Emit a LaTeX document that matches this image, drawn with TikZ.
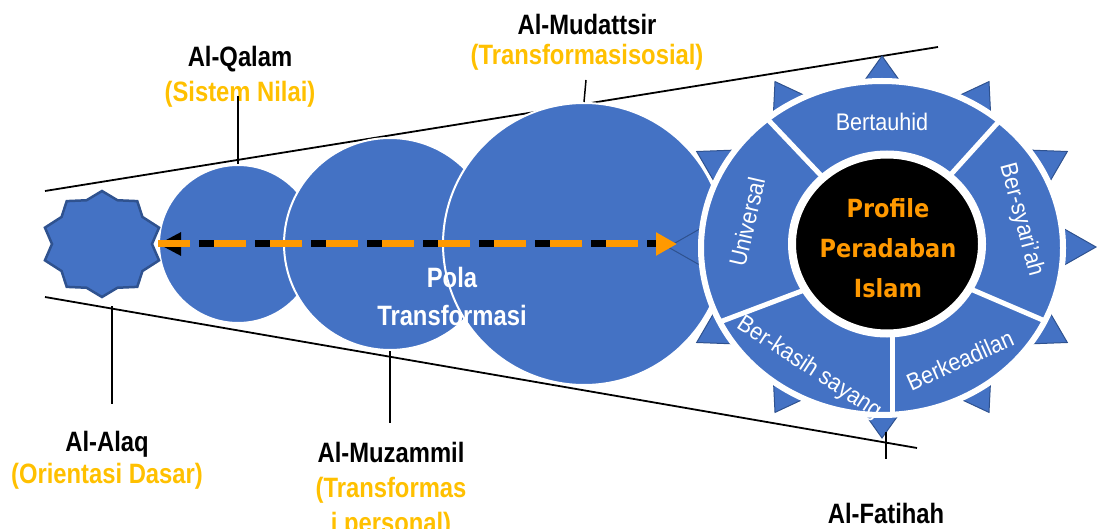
\documentclass[tikz,border=0pt]{standalone}
\usepackage{fontspec}
\setmainfont{Liberation Sans}
\newfontfamily\labelfont[FakeStretch=0.85]{Liberation Sans}
\newfontfamily\segmentfont[FakeStretch=0.9]{Liberation Sans}
\newfontfamily\profilefont[FakeStretch=0.9]{DejaVu Sans}
\usetikzlibrary{positioning, shapes.geometric, arrows.meta}
\definecolor{wheelblue}{HTML}{4472C4}
\definecolor{wheeledge}{HTML}{2F528F}
\definecolor{themegold}{HTML}{FFC000}
\definecolor{pathorange}{HTML}{FF9900}

\begin{document}
\begin{tikzpicture}[x=1pt, y=-1pt,
    surah/.style={font=\labelfont\bfseries\fontsize{28}{30}\selectfont, align=center, inner sep=0pt, anchor=base},
    stage/.style={circle, inner sep=0pt, fill=wheelblue, draw=white, line width=2pt},
    virtue/.style={font=\segmentfont\fontsize{24}{24}\selectfont, text=white, inner sep=0pt},
    leader/.style={line width=1.5pt},
    divider/.style={draw=white, line width=5pt}]
    \useasboundingbox (0,0) rectangle (1097,529);

    % funnel
    \coordinate (topL) at (45,191);
    \coordinate (topR) at (938,47);
    \coordinate (botL) at (45,297);
    \coordinate (botR) at (917,448);
    \draw [line width=1.8pt] (topL) -- (topR);
    \draw [line width=1.8pt] (botL) -- (botR);

    % stages
    \node (qalamC)     [stage, minimum size=158] at (238,244) {};
    \node (muzammilC)  [stage, minimum size=212] at (390,244) {};
    \node (mudattsirC) [stage, minimum size=282] at (584,244) {};

    % al-alaq
    \draw [fill=wheelblue, draw=wheeledge, line width=2.5pt] (102,191)
        \foreach \k in {1,...,19}
        { -- ({102+(55+5*cos(180*\k))*cos(90+18*\k)}, {244-(49.5+3.5*cos(180*\k))*sin(90+18*\k)}) } -- cycle;

    % wheel
    \draw [fill=wheelblue, draw=wheeledge, line width=1pt] (882,56)
        \foreach \k in {1,...,23}
        { -- ({882+(185+29*cos(180*\k))*cos(90+15*\k)}, {247-(165+26*cos(180*\k))*sin(90+15*\k)}) } -- cycle;
    \draw [fill=wheelblue, draw=white, line width=6pt] (882,248) ellipse [x radius=181pt, y radius=167pt];
    \begin{scope}
        \clip (882,248) ellipse [x radius=181pt, y radius=167pt];
        \draw [divider] (887,245) -- (700,48);
        \draw [divider] (887,245) -- (1068,45);
        \draw [divider] (960,284.5) -- (1080,336);
        \draw [divider] (892,300) -- (892,430);
        \draw [divider] (815,286) -- (680,337);
    \end{scope}
    \node (core) [ellipse, fill=black, draw=white, line width=8pt, minimum width=190, minimum height=179, inner sep=0pt] at (887,244) {};

    \node (tauhid)    [virtue] at (882,122) {Bertauhid};
    \node (universal) [virtue, rotate=77] at (747,222) {Universal};
    \node (syariah)   [virtue, rotate=-75] at (1021,220) {Ber-syari’ah};
    \node (keadilan)  [virtue, rotate=24] at (960,360) {Berkeadilan};
    \node (kasih)     [virtue, rotate=-33] at (809,368) {Ber-kasih sayang};
    \node (profile) [font=\profilefont\bfseries\fontsize{25}{40}\selectfont, text=pathorange, align=center, inner sep=0pt, anchor=base] at (888,297) {Profile\\Peradaban\\Islam};

    \node (pola) [surah, text=white] at (452,325) {Pola\\[8pt]Transformasi};

    % path of change
    \coordinate (arrowhead) at (677,244);
    \draw [{Triangle[length=23pt, width=22pt]}-, line width=7pt] (qalamC.west) -- ++(26,0);
    \draw [line width=7pt, dash pattern=on 15pt off 41pt] ([xshift=41pt]qalamC.west) -- (arrowhead);
    \draw [pathorange, line width=7pt, dash pattern=on 32pt off 24pt, -{Triangle[length=21pt, width=22pt]}] (qalamC.west) -- (arrowhead);

    % labels
    \node (qalam)     [surah] at (240,102) {Al-Qalam\\[5pt]\textcolor{themegold}{(Sistem Nilai)}};
    \node (mudattsir) [surah] at (587,65) {Al-Mudattsir\\\textcolor{themegold}{(Transformasisosial)}};
    \node (alaq)      [surah] at (107,483) {Al-Alaq\\[1.5pt]\textcolor{themegold}{(Orientasi Dasar)}};
    \node (muzammil)  [surah] at (391,532) {Al-Muzammil\\[5pt]\textcolor{themegold}{(Transformas}\\[5pt]\textcolor{themegold}{i personal)}};
    \node (fatihah)   [surah] at (886,523) {Al-Fatihah};

    \coordinate (alaqpin) at (112,306);
    \coordinate (fatihahpin) at (886,432);
    \draw [leader] (qalamC.north) -- ++(0,-68);
    \draw [leader] (mudattsirC.north) -- ++(2,-22);
    \draw [leader] (muzammilC.south) -- ++(0,72);
    \draw [leader] (alaqpin) -- ++(0,98);
    \draw [leader] (fatihahpin) -- ++(0,27);
\end{tikzpicture}
\end{document}
